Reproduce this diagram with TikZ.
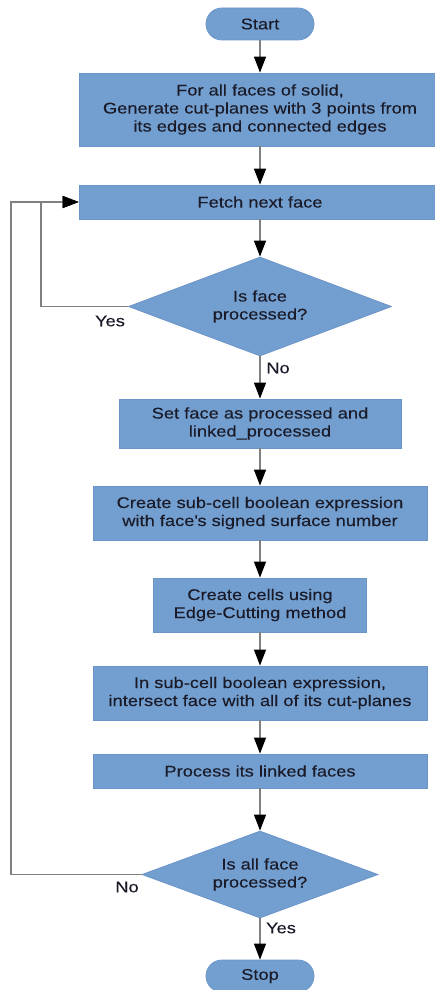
\documentclass[tikz,border=0pt]{standalone}
\usepackage{fontspec}
\setmainfont{Liberation Sans}[FakeStretch=1.18,FakeBold=0.15]
\usetikzlibrary{shapes.geometric,arrows.meta}
\definecolor{boxfill}{HTML}{729FCF}
\definecolor{boxline}{HTML}{6A95C8}
\definecolor{txt}{HTML}{1A1A28}
\definecolor{conn}{HTML}{808080}
\tikzset{
  base/.style={fill=boxfill, draw=boxline, line width=0.8pt, text=txt, align=center, inner sep=0pt,
    font=\fontsize{15.5}{18}\selectfont},
  procbox/.style={base, rectangle, minimum height=#1},
  term/.style={base, rectangle, rounded corners=16pt, minimum width=108pt, minimum height=32pt},
  decision/.style={base, diamond, aspect=2.6},
  lbl/.style={text=txt, font=\fontsize{15.5}{18}\selectfont, inner sep=0pt},
  conn/.style={draw=conn, line width=1.2pt, -{Triangle[length=16pt,width=12pt,fill=black,color=black]}},
  plain/.style={draw=conn, line width=1.2pt}
}
\begin{document}
\begin{tikzpicture}[x=1pt,y=-1pt]
\useasboundingbox (0,0) rectangle (434,990);
\node[term] (start) at (260,24) {Start};
\node[procbox=73pt, minimum width=362pt] (gen) at (260,109.5) {For all faces of solid,\\Generate cut-planes with 3 points from\\its edges and connected edges};
\node[procbox=34pt, minimum width=362pt] (fetch) at (260,202) {Fetch next face};
\node[decision, minimum width=263pt, minimum height=99pt] (d1) at (260,306.5) {Is face\\processed?};
\node[procbox=49pt, minimum width=282pt] (setp) at (260,423.5) {Set face as processed and\\linked\_processed};
\node[procbox=54pt, minimum width=334pt] (sub) at (260,513) {Create sub-cell boolean expression\\with face\textquotesingle s signed surface number};
\node[procbox=54pt, minimum width=213pt] (cells) at (260,605) {Create cells using\\Edge-Cutting method};
\node[procbox=54pt, minimum width=334pt] (inter) at (260,693) {In sub-cell boolean expression,\\intersect face with all of its cut-planes};
\node[procbox=34pt, minimum width=334pt] (proc) at (260,771) {Process its linked faces};
\node[decision, minimum width=236pt, minimum height=87pt] (d2) at (260,874.5) {Is all face\\processed?};
\node[term] (stop) at (260,976) {Stop};

\node[lbl] (yes1) at (110,321) {Yes};
\node[lbl] (no1) at (278,368) {No};
\node[lbl] (no2) at (127,887) {No};
\node[lbl] (yes2) at (281,928) {Yes};

\coordinate (c1) at (41,306.5);
\coordinate (c2) at (11,874.5);

\draw[conn] (start) -- (gen);
\draw[conn] (gen) -- (fetch);
\draw[conn] (fetch) -- (d1);
\draw[conn] (d1) -- (setp);
\draw[conn] (setp) -- (sub);
\draw[conn] (sub) -- (cells);
\draw[conn] (cells) -- (inter);
\draw[conn] (inter) -- (proc);
\draw[conn] (proc) -- (d2);
\draw[conn] (d2) -- (stop);
\draw[conn] (d1.west) -- (c1) |- (fetch.west);
\draw[conn] (d2.west) -- (c2) |- (fetch.west);
\end{tikzpicture}
\end{document}
